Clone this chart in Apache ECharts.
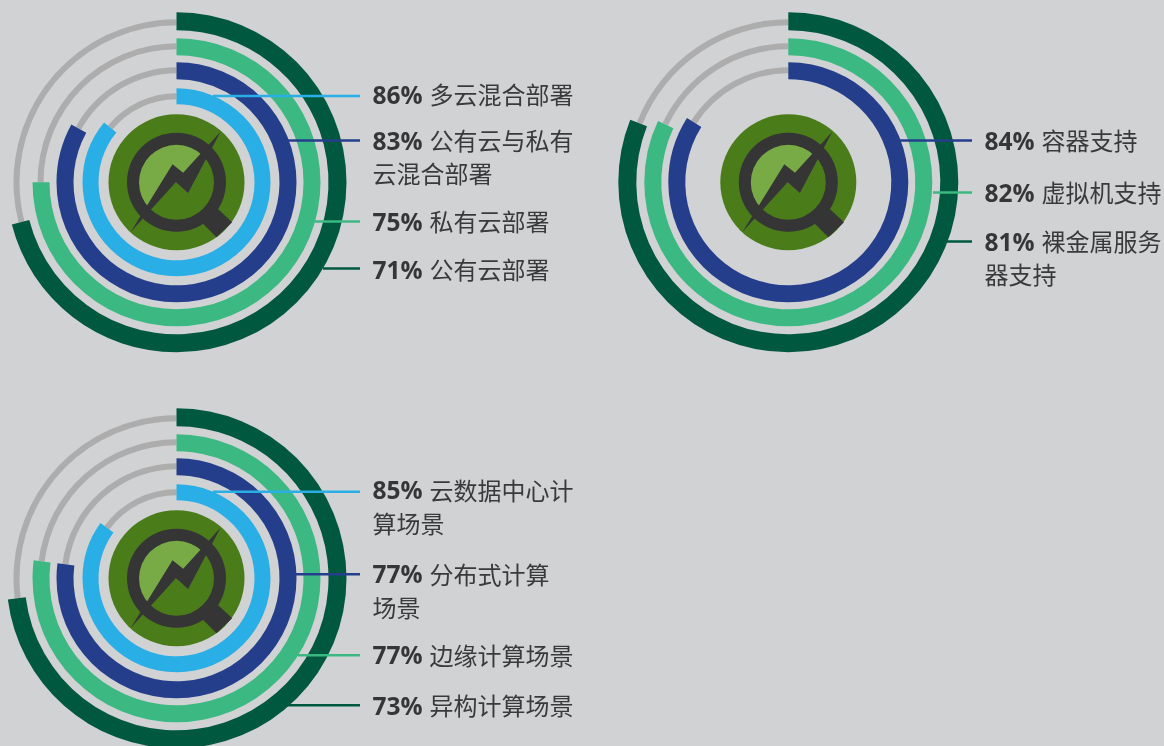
<!DOCTYPE html>
<html>
<head>
<meta charset="utf-8">
<style>html,body{margin:0;padding:0;background:#d1d2d4}#c{width:1164px;height:746px}</style>
<script src="https://cdn.jsdelivr.net/npm/echarts@6/dist/echarts.min.js"></script>
</head>
<body>
<div id="c"></div>
<script>
// Values (percent), inner ring first
var hybridValues = [86, 83, 75, 71];
var hybridLabels = ['多云混合部署', '公有云与私有\n云混合部署', '私有云部署', '公有云部署'];
var virtValues = [84, 82, 81];
var virtLabels = ['容器支持', '虚拟机支持', '裸金属服务\n器支持'];
var scenarioValues = [85, 77, 77, 73];
var scenarioLabels = ['云数据中心计\n算场景', '分布式计算\n场景', '边缘计算场景', '异构计算场景'];

// Layout and style
var BG = '#d1d2d4', TRACK = '#adadad', TEXT = '#3a3a3a';
var ringColors = {lb: '#2aaee6', b: '#243e8c', g: '#3cb983', d: '#00583f'};
var bands = {lb: [78, 94, 83, 89], b: [103, 120, 109, 115], g: [127, 144, 133, 139], d: [152, 170, 157, 163]};
var panels = [
  {cx: 176.5, cy: 182.3, values: hybridValues, labels: hybridLabels, keys: ['lb', 'b', 'g', 'd'],
   lineEnd: 360, textX: 372.5, lineY: [96, 140.5, 221.5, 268.5], lineStart: [213, 288, 315, 323], textY: [95, 141, 222, 270]},
  {cx: 788.3, cy: 182.3, values: virtValues, labels: virtLabels, keys: ['b', 'g', 'd'],
   lineEnd: 972, textX: 984.5, lineY: [140.5, 192.5, 241.5], lineStart: [900, 933, 947], textY: [141, 193, 242]},
  {cx: 176.5, cy: 578.3, values: scenarioValues, labels: scenarioLabels, keys: ['lb', 'b', 'g', 'd'],
   lineEnd: 360, textX: 372.5, lineY: [491.7, 574.3, 655.3, 705.3], lineStart: [213, 296, 298, 287], textY: [490.5, 574.5, 655.5, 706]}
];
// Magnifier icon outline, in px relative to the disc centre
function p(a) { return a.map(function (q) { return [(q[0] - 230) / 3, (q[1] - 232) / 3]; }); }
var boltPts = p([[93,380],[218,178],[250,203],[362,80],[265,265],[228,232]]);
var handlePts = p([[352,310],[397,352],[350,397],[308,355]]);
var coverPts = p([[130,325],[228,232],[265,265],[325,150],[375,230],[340,340],[230,375]]);

var series = [], graphic = [];
panels.forEach(function (P) {
  P.values.forEach(function (v, i) {
    var k = P.keys[i], B = bands[k];
    var common = {type: 'pie', center: [P.cx, P.cy], startAngle: 90, clockwise: true, silent: true,
      animation: false, label: {show: false}, labelLine: {show: false}, emphasis: {disabled: true}};
    series.push(Object.assign({}, common, {radius: [B[2], B[3]], z: 2, data: [
      {value: v, itemStyle: {color: 'rgba(0,0,0,0)'}},
      {value: 100 - v, itemStyle: {color: TRACK}}
    ]}));
    series.push(Object.assign({}, common, {radius: [B[0], B[1]], z: 3, data: [
      {value: v, itemStyle: {color: ringColors[k]}},
      {value: 100 - v, itemStyle: {color: 'rgba(0,0,0,0)'}}
    ]}));
    graphic.push({type: 'line', z: 20, silent: true,
      shape: {x1: P.lineStart[i], y1: P.lineY[i], x2: P.lineEnd, y2: P.lineY[i]},
      style: {stroke: ringColors[k], lineWidth: 2.5}});
    var lines = P.labels[i].split('\n');
    var txt = '{p|' + v + '%}{n|' + lines[0] + '}' + (lines[1] ? '\n{n|' + lines[1] + '}' : '');
    graphic.push({type: 'text', z: 20, silent: true, x: P.textX, y: P.textY[i] - 16.5,
      style: {text: txt, textAlign: 'left', textVerticalAlign: 'top', fill: TEXT, rich: {
        p: {fontFamily: '"Open Sans"', fontWeight: 700, fontSize: 24.5, lineHeight: 29, padding: [4, 7, 0, 0], fill: '#363636'},
        n: {fontFamily: '"Noto Sans CJK SC"', fontWeight: 400, fontSize: 24, lineHeight: 33, fill: TEXT}
      }}});
  });
  // Centre icon
  graphic.push({type: 'group', x: P.cx, y: P.cy, z: 10, silent: true, children: [
    {type: 'circle', z: 10, shape: {cx: 0, cy: 0, r: 68}, style: {fill: '#4a7c1a'}},
    {type: 'circle', z: 11, shape: {cx: 0, cy: 0, r: 38}, style: {fill: '#78ab45'}},
    {type: 'polygon', z: 12, shape: {points: coverPts}, style: {fill: '#4a7c1a'}},
    {type: 'polygon', z: 13, shape: {points: handlePts}, style: {fill: '#353535'}},
    {type: 'ring', z: 14, shape: {cx: 0, cy: 0, r: 49.5, r0: 37.5}, style: {fill: '#353535'}},
    {type: 'polygon', z: 15, shape: {points: boltPts}, style: {fill: '#353535'}}
  ]});
});

var chart = echarts.init(document.getElementById('c'), null, {renderer: 'canvas'});
chart.setOption({backgroundColor: BG, animation: false, series: series, graphic: {elements: graphic}});
</script>
</body>
</html>
